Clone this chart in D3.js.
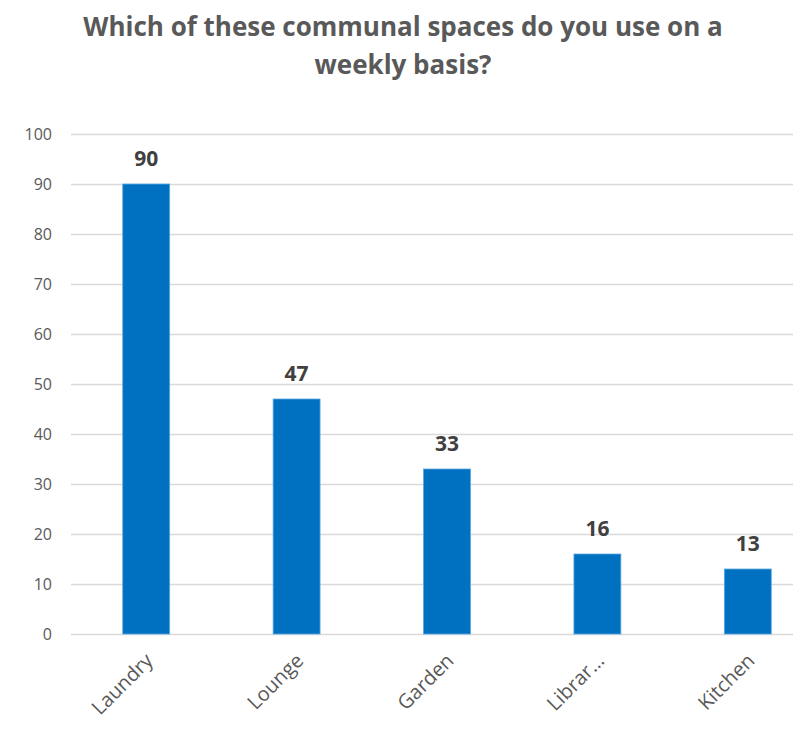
<!DOCTYPE html>
<html>
<head>
<meta charset="utf-8">
<script src="https://cdn.jsdelivr.net/npm/d3@7"></script>
<style>
  html, body { margin: 0; padding: 0; background: #fff; }
  svg { display: block; }
</style>
</head>
<body>
<svg id="chart" width="793" height="733"></svg>
<script>
// Survey results: communal spaces used weekly
const categories = ["Laundry", "Lounge", "Garden", "Librar…", "Kitchen"];
const values = [90, 47, 33, 16, 13];
const yTicks = [0, 10, 20, 30, 40, 50, 60, 70, 80, 90, 100];
const titleLines = ["Which of these communal spaces do you use on a", "weekly basis?"];

const svg = d3.select("#chart");
const plot = { left: 71, right: 823, top: 134, bottom: 634 };
const font = "'Open Sans', sans-serif";

const x = d3.scaleBand()
  .domain(categories)
  .range([plot.left, plot.right])
  .paddingInner(0.688)
  .paddingOuter(0.344);

const y = d3.scaleLinear()
  .domain([0, 100])
  .range([plot.bottom, plot.top]);

// Title
svg.append("g")
  .selectAll("text")
  .data(titleLines)
  .join("text")
  .attr("x", 403)
  .attr("y", (d, i) => 36 + i * 38)
  .attr("text-anchor", "middle")
  .style("font-family", font)
  .style("font-weight", "bold")
  .style("font-size", "26px")
  .attr("fill", "#595959")
  .text(d => d);

// Horizontal gridlines with value ticks
const yAxis = d3.axisLeft(y)
  .tickValues(yTicks)
  .tickSize(-(plot.right - plot.left))
  .tickPadding(19)
  .tickFormat(d3.format("d"));

const gy = svg.append("g")
  .attr("transform", `translate(${plot.left},0)`)
  .call(yAxis);
gy.select(".domain").remove();
gy.selectAll(".tick line")
  .attr("stroke", "#d9d9d9")
  .attr("stroke-width", 1.5);
gy.selectAll(".tick text")
  .style("font-family", font)
  .style("font-size", "16px")
  .attr("fill", "#595959");

// Bars
svg.append("g")
  .selectAll("rect")
  .data(values)
  .join("rect")
  .attr("x", (d, i) => x(categories[i]))
  .attr("y", d => y(d))
  .attr("width", x.bandwidth())
  .attr("height", d => y(0) - y(d))
  .attr("fill", "#0070c0")
  .attr("stroke", "#5aa9e0")
  .attr("stroke-width", 0.8);

// Value labels
svg.append("g")
  .selectAll("text")
  .data(values)
  .join("text")
  .attr("x", (d, i) => x(categories[i]) + x.bandwidth() / 2)
  .attr("y", d => y(d) - 18)
  .attr("text-anchor", "middle")
  .style("font-family", font)
  .style("font-weight", "bold")
  .style("font-size", "21px")
  .attr("fill", "#404040")
  .text(d => d);

// Category axis with rotated labels
const xAxis = d3.axisBottom(x).tickSize(0).tickPadding(0);
const gx = svg.append("g")
  .attr("transform", `translate(0,${plot.bottom})`)
  .call(xAxis);
gx.select(".domain").remove();
gx.selectAll(".tick text")
  .style("font-family", font)
  .style("font-size", "20px")
  .attr("fill", "#595959")
  .attr("text-anchor", "end")
  .attr("dy", null)
  .attr("transform", "translate(8,28) rotate(-45)");
</script>
</body>
</html>
